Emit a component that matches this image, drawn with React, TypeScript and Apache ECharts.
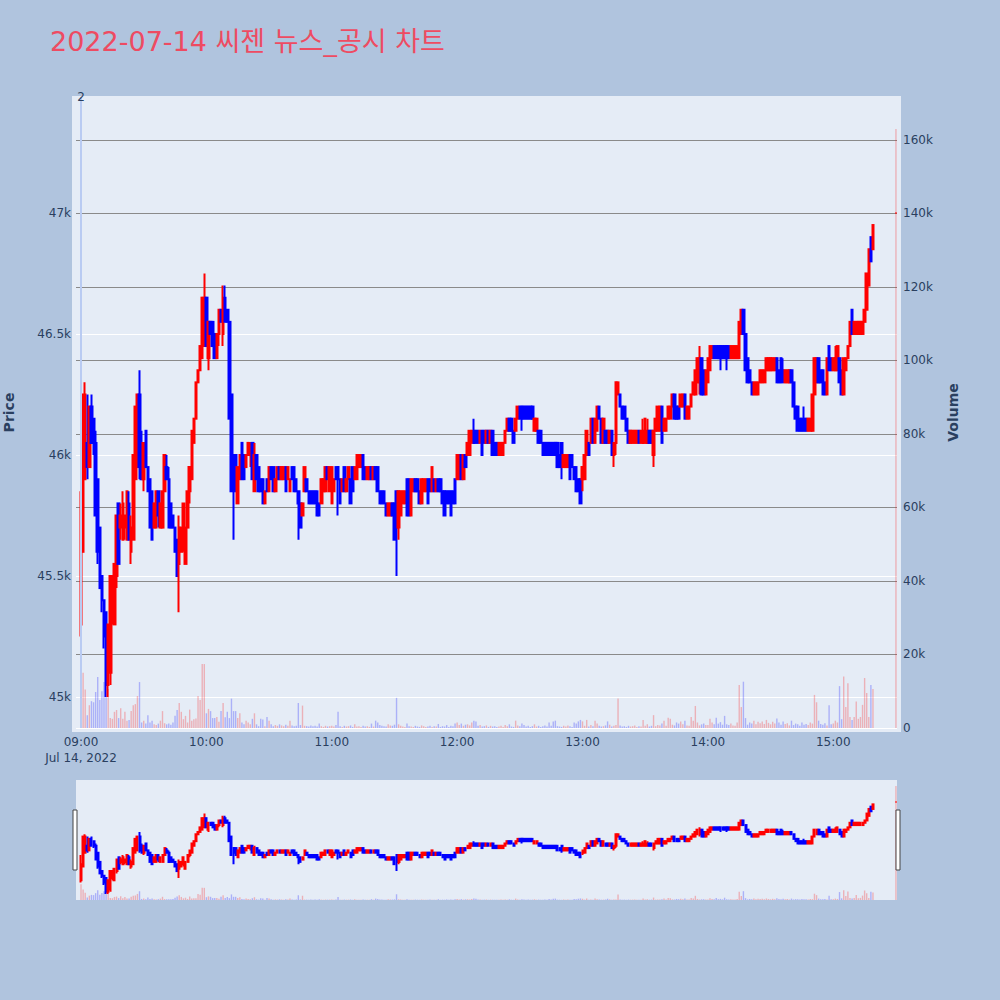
import React, { useEffect, useRef } from 'react';
import * as echarts from 'echarts';

// ---------------- data ----------------
const TITLE = '2022-07-14 씨젠 뉴스_공시 차트';
const DATE_LABEL = 'Jul 14, 2022';
const HOUR_LABELS = ['09:00', '10:00', '11:00', '12:00', '13:00', '14:00', '15:00'];
const NEWS_MARKS = [{ label: '2', time: '09:00' }];

type Candle = [number, number, number, number]; // open, close, low, high

const candles09: Candle[] = [
  [45300,45650,45250,45850],[45600,46250,45600,46250],[45900,46250,45900,46300],[46050,45950,45900,46250],[45950,46200,45950,46200],[46200,46050,46050,46250],[46150,46050,46000,46150],[46050,45750,45750,46100],[45900,45600,45550,45900],[45700,45450,45450,45700],
  [45500,45400,45350,45500],[45400,45250,45200,45400],[45350,45050,45000,45350],[45050,45300,45000,45300],[45100,45500,45050,45500],[45350,45500,45300,45500],[45300,45550,45300,45550],[45500,45750,45450,45750],[45800,45550,45550,45800],[45700,45750,45650,45800],
  [45650,45800,45650,45850],[45700,45750,45650,45750],[45650,45850,45650,45850],[45800,45650,45650,45850],[45600,45700,45550,45750],[45650,46000,45650,46000],[45900,46200,45900,46200],[45950,46250,45950,46250],[46250,45950,45900,46350],[46050,45900,45900,46100],
  [45900,46050,45850,46050],[46100,45950,45950,46100],[45950,45850,45850,45950],[45900,45700,45700,45900],[45850,45650,45650,45850],[45700,45800,45700,45800],[45700,45850,45700,45850],[45850,45750,45700,45850],[45700,45800,45700,45800],[45700,45850,45700,45850],
  [45850,46000,45850,46000],[45950,45900,45900,46000],[45900,45700,45700,45950],[45800,45700,45700,45800],[45750,45700,45700,45750],[45700,45600,45600,45700],[45650,45500,45500,45650],[45550,45700,45350,45750],[45600,45700,45600,45700],[45650,45800,45600,45800],
  [45550,45700,45550,45700],[45700,45850,45700,45850],[45850,45950,45800,45950],[45900,46100,45900,46100],[46050,46150,46050,46150],[46150,46300,46150,46300],[46300,46350,46300,46350],[46350,46450,46350,46450],[46400,46650,46400,46650],[46450,46650,46450,46750],
];
const candles10: Candle[] = [
  [46650,46450,46450,46650],[46400,46550,46350,46550],[46550,46500,46500,46550],[46550,46450,46450,46550],[46500,46400,46400,46500],[46400,46500,46400,46500],[46500,46600,46450,46600],[46600,46550,46550,46600],[46500,46650,46450,46700],[46650,46550,46550,46700],
  [46600,46550,46550,46600],[46550,46150,46150,46550],[46250,45850,45850,46250],[46000,45900,45650,46000],[46000,45850,45850,46000],[45800,45950,45800,45950],[45900,46000,45900,46000],[46050,45900,45900,46050],[46000,45900,45900,46000],[45950,46000,45950,46000],
  [46000,46050,46000,46050],[46000,46050,45950,46050],[46050,45900,45900,46050],[45850,46000,45850,46050],[46000,45900,45900,46000],[45950,45850,45850,45950],[45900,45850,45850,45900],[45900,45800,45800,45900],[45800,45850,45800,45850],[45900,45850,45850,45900],
  [45850,45950,45850,45950],[45950,45900,45900,45950],[45950,45850,45850,45950],[45850,45900,45850,45900],[45900,45950,45900,45950],[45950,45900,45900,45950],[45900,45950,45900,45950],[45900,45950,45900,45950],[45950,45850,45850,45950],[45900,45950,45900,45950],
  [45850,45900,45850,45900],[45950,45900,45900,45950],[45950,45850,45850,45950],[45900,45850,45850,45900],[45850,45800,45650,45850],[45800,45700,45700,45800],[45750,45800,45750,45800],[45850,45950,45850,45950],[45900,45850,45850,45900],[45850,45800,45800,45850],
  [45850,45800,45800,45850],[45850,45800,45800,45850],[45850,45800,45800,45850],[45850,45750,45750,45850],[45800,45750,45750,45800],[45800,45900,45800,45900],[45850,45900,45850,45900],[45850,45950,45850,45950],[45950,45900,45900,45950],[45850,45950,45850,45950],
];
const candles11: Candle[] = [
  [45800,45950,45800,45950],[45850,45900,45850,45900],[45950,45900,45900,45950],[45950,45900,45750,45950],[45900,45800,45800,45900],[45850,45900,45850,45900],[45950,45850,45850,45950],[45850,45900,45850,45900],[45900,45950,45900,45950],[45900,45800,45800,45900],
  [45950,45850,45850,45950],[45900,45950,45900,45950],[45900,46000,45900,46000],[45950,46000,45950,46000],[45950,46000,45950,46000],[46000,45900,45900,46000],[45950,45900,45900,45950],[45900,45950,45900,45950],[45900,45950,45900,45950],[45950,45900,45900,45950],
  [45900,45950,45900,45950],[45950,45900,45900,45950],[45950,45850,45850,45950],[45850,45800,45800,45850],[45850,45800,45800,45850],[45850,45800,45800,45850],[45800,45750,45750,45800],[45750,45800,45750,45800],[45750,45800,45750,45800],[45800,45750,45750,45800],
  [45800,45650,45650,45800],[45850,45700,45500,45850],[45700,45850,45650,45850],[45750,45850,45750,45850],[45800,45850,45800,45850],[45800,45850,45800,45850],[45900,45750,45750,45900],[45900,45750,45750,45900],[45750,45900,45750,45900],[45850,45900,45850,45900],
  [45900,45850,45850,45900],[45900,45850,45850,45900],[45850,45800,45800,45850],[45800,45900,45800,45900],[45850,45900,45850,45900],[45850,45900,45850,45900],[45900,45800,45800,45900],[45900,45850,45850,45900],[45850,45950,45850,45950],[45900,45850,45850,45900],
  [45850,45900,45850,45900],[45900,45850,45850,45900],[45900,45850,45850,45900],[45850,45800,45800,45850],[45850,45750,45750,45850],[45850,45800,45800,45850],[45850,45800,45800,45850],[45850,45750,45750,45850],[45850,45800,45800,45850],[45900,45800,45800,45900],
];
const candles12: Candle[] = [
  [45900,46000,45900,46000],[45900,46000,45900,46000],[46000,45900,45900,46000],[45900,46000,45900,46000],[46000,45950,45950,46000],[46000,46050,46000,46050],[46000,46100,46000,46100],[46050,46100,46050,46100],[46100,46050,46050,46150],[46100,46050,46050,46100],
  [46100,46050,46050,46100],[46050,46100,46050,46100],[46100,46000,46000,46100],[46100,46050,46050,46100],[46050,46100,46050,46100],[46100,46050,46050,46100],[46050,46100,46050,46100],[46100,46000,46000,46100],[46050,46000,46000,46050],[46050,46000,46000,46050],
  [46000,46050,46000,46050],[46000,46050,46000,46050],[46000,46050,46000,46050],[46050,46100,46050,46100],[46100,46150,46100,46150],[46150,46100,46100,46150],[46150,46100,46100,46150],[46100,46050,46050,46100],[46100,46150,46100,46150],[46150,46200,46150,46200],
  [46200,46150,46150,46200],[46200,46150,46100,46200],[46200,46150,46150,46200],[46200,46150,46150,46200],[46200,46150,46150,46200],[46200,46150,46150,46200],[46200,46150,46150,46200],[46100,46150,46100,46150],[46100,46150,46100,46150],[46100,46050,46050,46100],
  [46100,46050,46050,46100],[46050,46000,46000,46050],[46050,46000,46000,46050],[46050,46000,46000,46050],[46050,46000,46000,46050],[46050,46000,46000,46050],[46050,46000,46000,46050],[46050,46000,46000,46050],[46050,45950,45950,46050],[46000,45950,45950,46000],
  [46050,45950,45900,46050],[45950,46000,45950,46000],[45950,46000,45950,46000],[45950,46000,45950,46000],[46000,45900,45900,46000],[46000,45950,45950,46000],[45950,45900,45900,45950],[45950,45850,45850,45950],[45900,45850,45850,45900],[45900,45800,45800,45900],
];
const candles13: Candle[] = [
  [45900,45950,45850,45950],[45900,46000,45900,46000],[46000,46100,46000,46100],[46050,46000,46000,46050],[46050,46150,46050,46150],[46150,46050,46050,46150],[46050,46150,46050,46150],[46100,46200,46100,46200],[46200,46150,46150,46200],[46150,46050,46050,46150],
  [46050,46150,46050,46150],[46100,46050,46050,46100],[46100,46050,46050,46100],[46050,46100,46050,46100],[46100,46000,46000,46100],[46000,46050,45950,46050],[46050,46300,46000,46300],[46250,46300,46250,46300],[46250,46200,46200,46250],[46200,46150,46150,46200],
  [46200,46150,46150,46200],[46150,46100,46100,46150],[46100,46050,46050,46100],[46050,46100,46050,46100],[46050,46100,46050,46100],[46050,46100,46050,46100],[46050,46100,46050,46100],[46100,46050,46050,46100],[46050,46100,46050,46100],[46050,46100,46050,46150],
  [46050,46150,46050,46150],[46050,46100,46050,46150],[46100,46050,46050,46100],[46100,46050,46050,46100],[46000,46100,45950,46100],[46100,46150,46100,46150],[46100,46200,46100,46200],[46100,46200,46100,46200],[46200,46050,46050,46200],[46100,46150,46100,46150],
  [46100,46150,46100,46150],[46150,46200,46150,46200],[46150,46200,46150,46200],[46200,46250,46200,46250],[46250,46150,46150,46250],[46200,46150,46150,46200],[46200,46150,46150,46200],[46200,46250,46200,46250],[46200,46250,46200,46250],[46250,46150,46150,46250],
  [46150,46200,46150,46200],[46150,46200,46150,46200],[46200,46250,46200,46250],[46250,46300,46250,46300],[46250,46350,46250,46350],[46300,46400,46300,46400],[46300,46400,46250,46450],[46400,46250,46250,46400],[46350,46250,46250,46350],[46250,46350,46250,46350],
];
const candles14: Candle[] = [
  [46300,46400,46300,46400],[46350,46450,46350,46450],[46400,46450,46400,46450],[46450,46400,46400,46450],[46450,46400,46400,46450],[46450,46400,46400,46450],[46450,46400,46350,46450],[46450,46400,46400,46450],[46450,46400,46400,46450],[46450,46400,46350,46450],
  [46450,46400,46400,46450],[46400,46450,46400,46450],[46400,46450,46400,46450],[46400,46450,46400,46450],[46400,46450,46400,46450],[46400,46550,46400,46550],[46500,46600,46500,46600],[46600,46500,46500,46600],[46500,46350,46350,46500],[46400,46300,46300,46400],
  [46350,46300,46300,46350],[46300,46250,46250,46300],[46250,46300,46250,46300],[46250,46300,46250,46300],[46250,46300,46250,46300],[46300,46350,46300,46350],[46300,46350,46300,46350],[46300,46350,46300,46350],[46350,46400,46350,46400],[46350,46400,46350,46400],
  [46350,46400,46350,46400],[46350,46400,46350,46400],[46350,46400,46350,46400],[46400,46300,46300,46400],[46350,46300,46300,46350],[46400,46300,46300,46400],[46350,46300,46300,46400],[46300,46350,46300,46350],[46300,46350,46300,46350],[46300,46350,46300,46350],
  [46350,46300,46300,46350],[46300,46200,46200,46300],[46200,46150,46150,46200],[46200,46100,46100,46200],[46150,46100,46100,46150],[46150,46100,46100,46150],[46150,46100,46100,46200],[46150,46100,46100,46150],[46100,46150,46100,46150],[46100,46150,46100,46150],
  [46100,46250,46100,46250],[46250,46400,46250,46400],[46300,46400,46300,46400],[46400,46300,46300,46400],[46350,46300,46300,46350],[46350,46250,46250,46350],[46300,46250,46250,46300],[46250,46400,46250,46400],[46450,46350,46350,46450],[46400,46350,46350,46400],
];
const candles15: Candle[] = [
  [46350,46400,46350,46400],[46350,46400,46350,46450],[46350,46450,46350,46450],[46400,46300,46300,46400],[46350,46250,46250,46350],[46250,46400,46250,46400],[46350,46400,46350,46400],[46400,46450,46400,46450],[46450,46550,46450,46550],[46600,46500,46500,46600],
  [46500,46550,46500,46550],[46500,46550,46500,46550],[46500,46550,46500,46550],[46500,46550,46500,46550],[46500,46550,46500,46550],[46550,46600,46550,46600],[46600,46750,46600,46750],[46700,46850,46700,46850],[46900,46800,46800,46900],[46850,46950,46850,46950],
];
const AUCTION_TIME = '15:30';
const auctionCandle: Candle = [47000, 47000, 47000, 47000];

const volume09 = [
  22600,15000,10500,3500,6200,7300,7000,9800,13900,7600,
  10000,12500,8700,10600,2700,2500,4400,4900,2700,5400,
  2500,4400,2000,2200,4600,6200,6500,8700,12500,1500,
  2000,1200,3500,1500,2000,1000,800,1200,2000,4600,
  1300,1000,1200,900,1500,3300,4900,6800,4400,2400,
  3300,1500,5000,2000,2400,2600,8700,7600,17400,17400,
];
const volume10 = [
  4000,5200,4600,2700,2700,3000,1700,4600,6800,2900,
  4400,2700,8000,4600,4600,2700,4000,1500,1000,2000,
  1500,1000,2500,4000,1000,500,2500,2300,500,3000,
  2000,1000,500,800,600,1000,700,500,900,600,
  2000,700,500,600,6800,800,6100,600,500,400,
  700,500,600,400,1200,500,300,600,400,500,
];
const volume11 = [
  600,400,800,4400,500,300,600,400,500,700,
  300,1000,400,500,300,600,400,500,300,1200,
  400,2000,1500,800,600,500,400,1000,700,600,
  900,8200,1000,600,400,300,1200,500,400,300,
  600,400,300,700,500,300,400,600,300,500,
  400,1100,300,500,400,800,300,600,500,1200,
];
const volume12 = [
  1500,800,1200,600,900,1000,700,1500,2000,1800,
  600,800,400,500,700,300,600,400,500,300,
  400,600,300,800,500,1000,400,300,2000,700,
  500,1200,800,400,600,300,500,1000,400,600,
  300,500,700,400,1500,600,1800,2000,500,400,
  300,600,400,700,500,300,1500,1200,1800,2200,
];
const volume13 = [
  1800,600,2200,400,800,500,2000,1200,600,400,
  500,700,1800,900,400,600,800,8000,700,400,
  500,300,600,400,500,700,300,500,400,2200,
  600,1000,400,600,3500,500,800,700,1200,2000,
  600,2800,2500,900,700,1500,1200,1800,1000,2000,
  700,600,3000,2000,6000,1500,700,1000,1200,800,
];
const volume14 = [
  800,2500,1500,1000,2800,1200,1600,900,3300,1000,
  800,1200,700,600,1500,11700,5700,12600,2700,900,
  1500,1200,2000,1000,1700,1300,1800,1100,2200,1400,
  1000,1700,1200,2600,1500,900,1800,1100,1300,700,
  2000,800,1200,1000,600,1500,900,1100,800,1500,
  1200,9000,7000,2000,1100,900,1300,700,6200,1000,
];
const volume15 = [
  1200,2000,1500,11400,2400,14000,5700,12200,3000,2200,
  3000,7200,2500,3000,6300,13600,9500,3000,11700,10600,
];
const auctionVolume = 163000;

// ---------------- styling / layout ----------------
const FONT = '"DejaVu Sans", "Noto Sans CJK KR", sans-serif';
const TEXT = '#2a3f5f';
const UP = '#FF0000';
const DOWN = '#0000FF';
const VOL_UP = 'rgba(255,0,0,0.25)';
const VOL_DOWN = 'rgba(0,0,255,0.25)';
const PLOT_BG = '#E5ECF6';

const X_MIN = -2.4;
const X_MAX = 390.5;
const P_MIN = 44872;
const P_MAX = 47479;
const V_MAX = 171700;

const toMin = (t: string) => {
  const [h, m] = t.split(':').map(Number);
  return (h - 9) * 60 + m;
};

const volumeRenderer = (barW: number) => (_params: any, api: any) => {
  const x = api.value(0);
  const v = api.value(1);
  const up = api.value(2);
  const base = api.coord([x, 0]);
  const top = api.coord([x, v]);
  return {
    type: 'rect',
    shape: { x: base[0] - barW / 2, y: top[1], width: barW, height: base[1] - top[1] },
    style: { fill: up ? VOL_UP : VOL_DOWN },
  };
};

function buildOption() {
  const blocks: [number, Candle[], number[]][] = [
    [9, candles09, volume09],
    [10, candles10, volume10],
    [11, candles11, volume11],
    [12, candles12, volume12],
    [13, candles13, volume13],
    [14, candles14, volume14],
    [15, candles15, volume15],
  ];
  const pts: { x: number; c: Candle; v: number }[] = [];
  blocks.forEach(([h, cs, vs]) =>
    cs.forEach((c, i) => pts.push({ x: (h - 9) * 60 + i, c, v: vs[i] ?? 0 }))
  );
  pts.push({ x: toMin(AUCTION_TIME), c: auctionCandle, v: auctionVolume });

  const candleData = pts.map((p) => [p.x, p.c[0], p.c[1], p.c[2], p.c[3]]);
  const volData = pts.map((p) => [p.x, p.v, p.c[1] >= p.c[0] ? 1 : 0]);

  const candleStyle = {
    color: UP,
    color0: DOWN,
    borderColor: UP,
    borderColor0: DOWN,
    borderColorDoji: UP,
    borderWidth: 2,
  };

  const hourValues = HOUR_LABELS.map(toMin);

  return {
    animation: false,
    backgroundColor: '#B0C4DE',
    textStyle: { fontFamily: FONT },
    title: {
      text: TITLE,
      left: 50,
      top: 28,
      padding: 0,
      textStyle: { color: '#EE4B62', fontSize: 27, fontWeight: 'normal', fontFamily: FONT },
    },
    graphic: [
      {
        type: 'rect',
        z: -10,
        silent: true,
        shape: { x: 72, y: 96, width: 829, height: 636 },
        style: { fill: PLOT_BG },
      },
      {
        type: 'rect',
        z: 100,
        shape: { x: 73, y: 810, width: 4, height: 60 },
        style: { fill: '#ffffff', stroke: '#444444', lineWidth: 1 },
      },
      {
        type: 'rect',
        z: 100,
        shape: { x: 896, y: 810, width: 4, height: 60 },
        style: { fill: '#ffffff', stroke: '#444444', lineWidth: 1 },
      },
    ],
    grid: [
      { left: 76, width: 821, top: 97, height: 631, show: false, containLabel: false, outerBoundsMode: 'none' },
      {
        left: 76, width: 821, top: 780, height: 120, show: true, backgroundColor: PLOT_BG, borderWidth: 0,
        containLabel: false, outerBoundsMode: 'none',
      },
    ],
    xAxis: [
      {
        type: 'value',
        gridIndex: 0,
        min: X_MIN,
        max: X_MAX,
        axisLine: { show: false },
        axisTick: { show: false },
        splitLine: { show: false },
        axisLabel: {
          customValues: hourValues,
          color: TEXT,
          fontSize: 12,
          lineHeight: 16,
          margin: 6,
          fontFamily: FONT,
          formatter: (v: number) => {
            const idx = hourValues.indexOf(Math.round(v));
            const lab = idx >= 0 ? HOUR_LABELS[idx] : '';
            return idx === 0 ? lab + '\n' + DATE_LABEL : lab;
          },
        },
      },
      { type: 'value', gridIndex: 1, min: X_MIN, max: X_MAX, show: false, splitLine: { show: false } },
    ],
    yAxis: [
      {
        type: 'value',
        gridIndex: 0,
        position: 'left',
        min: P_MIN,
        max: P_MAX,
        splitNumber: 5,
        minInterval: 500,
        maxInterval: 500,
        name: 'Price',
        nameLocation: 'middle',
        nameRotate: 90,
        nameGap: 60,
        nameTextStyle: { color: TEXT, fontSize: 14, fontWeight: 'bold', fontFamily: FONT },
        axisLine: { show: false },
        axisTick: { show: false },
        axisLabel: {
          showMinLabel: false,
          showMaxLabel: false,
          color: TEXT,
          fontSize: 12,
          margin: 5,
          fontFamily: FONT,
          formatter: (v: number) => v / 1000 + 'k',
        },
        splitLine: { show: true, showMaxLine: false, lineStyle: { color: '#ffffff', width: 1 } },
      },
      {
        type: 'value',
        gridIndex: 0,
        position: 'right',
        min: 0,
        max: V_MAX,
        splitNumber: 8,
        minInterval: 20000,
        maxInterval: 20000,
        name: 'Volume',
        nameLocation: 'middle',
        nameRotate: 90,
        nameGap: 49,
        nameTextStyle: { color: TEXT, fontSize: 14, fontWeight: 'bold', fontFamily: FONT },
        axisLine: { show: false },
        axisTick: { show: false },
        axisLabel: {
          showMaxLabel: false,
          color: TEXT,
          fontSize: 12,
          margin: 6,
          fontFamily: FONT,
          formatter: (v: number) => (v === 0 ? '0' : v / 1000 + 'k'),
        },
        splitLine: { show: true, showMinLine: false, showMaxLine: false, lineStyle: { color: '#8a8a8a', width: 1 } },
      },
      { type: 'value', gridIndex: 1, min: P_MIN, max: P_MAX, show: false, splitLine: { show: false } },
      { type: 'value', gridIndex: 1, min: 0, max: V_MAX, show: false, splitLine: { show: false } },
    ],
    series: [
      {
        type: 'custom',
        name: 'Volume',
        xAxisIndex: 0,
        yAxisIndex: 1,
        data: volData,
        encode: { x: 0, y: 1 },
        renderItem: volumeRenderer(1.4),
        clip: true,
        z: 1,
        silent: true,
      },
      {
        type: 'candlestick',
        name: 'Price',
        xAxisIndex: 0,
        yAxisIndex: 0,
        data: candleData,
        encode: { x: 0, y: [1, 2, 3, 4] },
        barWidth: 2,
        itemStyle: candleStyle,
        z: 3,
        markLine: {
          silent: true,
          symbol: ['none', 'none'],
          lineStyle: { color: '#b9cbf2', width: 2, type: 'solid' },
          label: {
            show: true,
            position: 'end',
            color: TEXT,
            fontSize: 12,
            fontFamily: FONT,
            distance: -6,
          },
          data: NEWS_MARKS.map((n) => ({ xAxis: toMin(n.time), label: { formatter: n.label } })),
        },
      },
      {
        type: 'custom',
        xAxisIndex: 1,
        yAxisIndex: 3,
        data: volData,
        encode: { x: 0, y: 1 },
        renderItem: volumeRenderer(1.4),
        clip: true,
        z: 1,
        silent: true,
      },
      {
        type: 'candlestick',
        xAxisIndex: 1,
        yAxisIndex: 2,
        data: candleData,
        encode: { x: 0, y: [1, 2, 3, 4] },
        barWidth: 1.5,
        itemStyle: candleStyle,
        z: 3,
        silent: true,
      },
    ],
  };
}

export default function App() {
  const ref = useRef<HTMLDivElement>(null);
  useEffect(() => {
    if (!ref.current) return;
    const chart = echarts.init(ref.current, null, { renderer: 'svg' });
    chart.setOption(buildOption() as any);
    return () => chart.dispose();
  }, []);
  return (
    <div
      ref={ref}
      style={{ position: 'absolute', left: 0, top: 0, width: 1000, height: 1000 }}
    />
  );
}
